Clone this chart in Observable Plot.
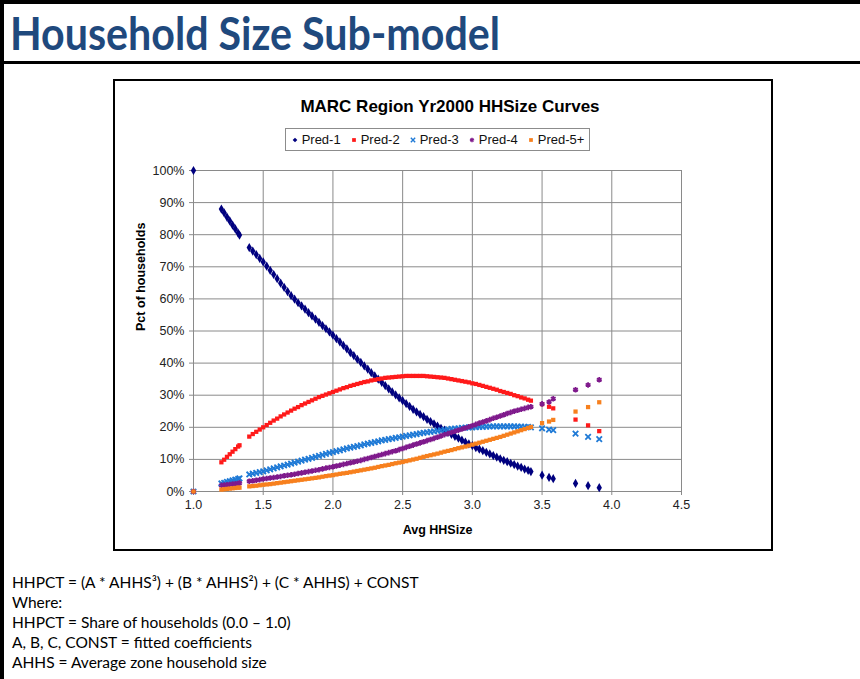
<!DOCTYPE html>
<html>
<head>
<meta charset="utf-8">
<script src="https://cdn.jsdelivr.net/npm/d3@7"></script>
<script src="https://cdn.jsdelivr.net/npm/@observablehq/plot@0.6"></script>
<style>
  html, body { margin: 0; padding: 0; background: #fff; }
  #slide { position: relative; width: 860px; height: 679px; background: #fff; overflow: hidden; }
  .abs { position: absolute; }
  #notes { left: 12px; top: 572px; font-family: Lato, "Open Sans", sans-serif; font-size: 15.5px; line-height: 20px; color: #000; white-space: nowrap; }
  #ctitle { left: 290px; top: 97px; width: 320px; text-align: center; font-family: "Liberation Sans", Arial, sans-serif; font-weight: bold; font-size: 17px; line-height: 20px; color: #000; }
  #legend { left: 285px; top: 128px; width: 305px; height: 23px; border: 1px solid #8c8c8c; box-sizing: border-box; display: flex; align-items: center; justify-content: center; gap: 9px; font-family: "Liberation Sans", Arial, sans-serif; font-size: 13px; color: #111; }
  #legend span.item { display: inline-flex; align-items: center; gap: 3px; }
</style>
</head>
<body>
<div id="slide">
  <div class="abs" style="left:0;top:0;width:4px;height:679px;background:#000"></div>
  <div class="abs" style="left:0;top:0;width:860px;height:4px;background:#000"></div>
  <svg class="abs" style="left:0;top:0" width="860" height="62">
    <text x="10" y="50" textLength="490" lengthAdjust="spacingAndGlyphs" font-family="Lato, 'Open Sans', sans-serif" font-weight="bold" font-size="45" fill="#1F497D">Household Size Sub-model</text>
  </svg>
  <div class="abs" style="left:0;top:61px;width:860px;height:3px;background:#000"></div>
  <div class="abs" style="left:113px;top:79px;width:656px;height:468px;border:2px solid #000"></div>
  <div id="ctitle" class="abs">MARC Region Yr2000 HHSize Curves</div>
  <div id="legend" class="abs"></div>
  <div id="chart" class="abs" style="left:115px;top:155px"></div>
  <div id="notes" class="abs">
    <div>HHPCT = (A * AHHS³) + (B * AHHS²) + (C * AHHS) + CONST</div>
    <div>Where:</div>
    <div>HHPCT = Share of households (0.0 – 1.0)</div>
    <div>A, B, C, CONST = fitted coefficients</div>
    <div>AHHS = Average zone household size</div>
  </div>
</div>
<script>
// ---- data ----
const seriesNames = ["Pred-1", "Pred-2", "Pred-3", "Pred-4", "Pred-5+"];
const seriesColors = ["#00007f", "#ff1a1a", "#1f7ad6", "#7f1a8c", "#f7801e"];
const seriesSymbols = ["diamond", "square", "times", "asterisk", "square"];

const avgHHSize = [
  1.00,
  1.20, 1.22, 1.24, 1.26, 1.28, 1.30, 1.32, 1.33,
  1.400, 1.425, 1.450, 1.475, 1.500, 1.525, 1.550, 1.575, 1.600, 1.625,
  1.650, 1.675, 1.700, 1.725, 1.750, 1.775, 1.800, 1.825, 1.850, 1.875,
  1.900, 1.925, 1.950, 1.975, 2.000, 2.025, 2.050, 2.075, 2.100, 2.125,
  2.150, 2.175, 2.200, 2.225, 2.250, 2.275, 2.300, 2.325, 2.350, 2.375,
  2.400, 2.425, 2.450, 2.475, 2.500, 2.525, 2.550, 2.575, 2.600, 2.625,
  2.650, 2.675, 2.700, 2.725, 2.750, 2.775, 2.800, 2.825, 2.850, 2.875,
  2.900, 2.925, 2.950, 2.975, 3.000, 3.025, 3.050, 3.075, 3.100, 3.125,
  3.150, 3.175, 3.200, 3.225, 3.250, 3.275, 3.300, 3.325, 3.350, 3.375,
  3.400, 3.420,
  3.50, 3.55, 3.58, 3.74, 3.83, 3.91
];

const pred1 = [
  100,
  88.0, 86.8, 85.5, 84.3, 83.0, 81.8, 80.5, 79.9,
  76.0, 74.9, 73.8, 72.6, 71.5, 70.2, 68.9, 67.6, 66.3, 64.9,
  63.6, 62.3, 61.0, 59.9, 58.8, 57.8, 56.8, 55.7, 54.7, 53.7,
  52.7, 51.7, 50.7, 49.7, 48.7, 47.6, 46.6, 45.5, 44.4, 43.3,
  42.3, 41.2, 40.2, 39.1, 38.1, 37.0, 36.0, 35.0, 34.0, 33.0,
  32.0, 31.0, 30.1, 29.2, 28.3, 27.4, 26.5, 25.6, 24.8, 24.0,
  23.3, 22.5, 21.8, 21.1, 20.4, 19.7, 19.1, 18.4, 17.8, 17.2,
  16.6, 16.0, 15.4, 14.8, 14.3, 13.7, 13.2, 12.7, 12.2, 11.7,
  11.2, 10.7, 10.2, 9.7, 9.3, 8.8, 8.4, 7.9, 7.5, 7.0,
  6.6, 6.2,
  5.1, 4.4, 4.0, 2.5, 1.8, 1.2
];
const pred2 = [
  0,
  9.1, 9.9, 10.8, 11.6, 12.4, 13.2, 14.0, 14.4,
  17.1, 17.9, 18.6, 19.3, 20.0, 20.7, 21.4, 22.1, 22.7, 23.4,
  24.0, 24.6, 25.2, 25.8, 26.3, 26.9, 27.4, 27.9, 28.4, 28.9,
  29.4, 29.8, 30.2, 30.6, 31.0, 31.4, 31.8, 32.2, 32.5, 32.9,
  33.2, 33.5, 33.8, 34.1, 34.3, 34.6, 34.8, 35.0, 35.2, 35.4,
  35.5, 35.6, 35.7, 35.8, 35.9, 36.0, 36.0, 36.0, 36.0, 36.0,
  36.0, 35.9, 35.8, 35.7, 35.6, 35.5, 35.4, 35.2, 35.0, 34.8,
  34.6, 34.4, 34.2, 34.0, 33.7, 33.5, 33.2, 32.9, 32.6, 32.3,
  32.0, 31.7, 31.3, 31.0, 30.7, 30.4, 30.0, 29.7, 29.3, 29.0,
  28.6, 28.3,
  27.2, 26.4, 25.9, 22.4, 20.6, 18.8
];
const pred3 = [
  0,
  2.5, 2.7, 3.0, 3.2, 3.5, 3.7, 3.9, 4.1,
  5.3, 5.55, 5.8, 6.05, 6.3, 6.6, 6.9, 7.2, 7.5, 7.8,
  8.1, 8.4, 8.7, 9.0, 9.3, 9.6, 9.9, 10.2, 10.5, 10.8,
  11.1, 11.4, 11.7, 12.0, 12.3, 12.55, 12.8, 13.1, 13.4, 13.65,
  13.9, 14.15, 14.4, 14.65, 14.9, 15.15, 15.4, 15.65, 15.9, 16.1,
  16.3, 16.5, 16.7, 16.9, 17.1, 17.3, 17.5, 17.7, 17.9, 18.1,
  18.3, 18.45, 18.6, 18.75, 18.9, 19.05, 19.2, 19.35, 19.5, 19.6,
  19.7, 19.8, 19.9, 19.95, 20.0, 20.05, 20.1, 20.15, 20.2, 20.25,
  20.3, 20.3, 20.3, 20.3, 20.3, 20.3, 20.3, 20.25, 20.2, 20.15,
  20.1, 20.0,
  19.7, 19.3, 19.1, 18.0, 17.0, 16.3
];
const pred4 = [
  0,
  1.9, 2.0, 2.1, 2.2, 2.3, 2.4, 2.5, 2.6,
  3.2, 3.35, 3.5, 3.7, 3.9, 4.05, 4.2, 4.35, 4.5, 4.7,
  4.9, 5.05, 5.2, 5.4, 5.6, 5.8, 6.0, 6.2, 6.4, 6.6,
  6.8, 7.05, 7.3, 7.5, 7.7, 7.95, 8.2, 8.45, 8.7, 8.95,
  9.2, 9.45, 9.7, 10.0, 10.3, 10.6, 10.9, 11.2, 11.5, 11.8,
  12.1, 12.4, 12.7, 13.05, 13.4, 13.75, 14.1, 14.45, 14.8, 15.15,
  15.5, 15.85, 16.2, 16.55, 16.9, 17.3, 17.7, 18.05, 18.4, 18.75,
  19.1, 19.45, 19.8, 20.15, 20.5, 20.9, 21.3, 21.65, 22.0, 22.4,
  22.8, 23.15, 23.5, 23.9, 24.3, 24.65, 25.0, 25.3, 25.6, 25.9,
  26.2, 26.4,
  27.3, 27.9, 28.9, 31.7, 33.2, 34.8
];
const pred5 = [
  0,
  0.6, 0.7, 0.8, 0.9, 1.0, 1.1, 1.2, 1.2,
  1.6, 1.7, 1.8, 1.95, 2.1, 2.2, 2.3, 2.45, 2.6, 2.75,
  2.9, 3.05, 3.2, 3.35, 3.5, 3.65, 3.8, 3.95, 4.1, 4.25,
  4.4, 4.6, 4.8, 4.95, 5.1, 5.3, 5.5, 5.65, 5.8, 6.0,
  6.2, 6.4, 6.6, 6.8, 7.0, 7.2, 7.4, 7.65, 7.9, 8.1,
  8.3, 8.55, 8.8, 9.0, 9.2, 9.45, 9.7, 9.95, 10.2, 10.5,
  10.8, 11.05, 11.3, 11.55, 11.8, 12.1, 12.4, 12.65, 12.9, 13.2,
  13.5, 13.75, 14.0, 14.3, 14.6, 14.9, 15.2, 15.5, 15.8, 16.1,
  16.4, 16.7, 17.0, 17.35, 17.7, 18.05, 18.4, 18.75, 19.1, 19.45,
  19.8, 20.1,
  21.3, 21.8, 22.3, 24.9, 26.3, 27.8
];
const seriesValues = [pred1, pred2, pred3, pred4, pred5];

const xTicks = [1.0, 1.5, 2.0, 2.5, 3.0, 3.5, 4.0, 4.5];
const yTicks = [0, 0.1, 0.2, 0.3, 0.4, 0.5, 0.6, 0.7, 0.8, 0.9, 1.0];

// ---- build rows ----
const rows = [];
seriesNames.forEach((name, i) => {
  const vals = seriesValues[i];
  const n = Math.min(vals.length, avgHHSize.length);
  for (let j = 0; j < n; j++) rows.push({series: name, x: avgHHSize[j], y: vals[j] / 100});
});

const strokeSymbols = new Set(["times", "asterisk"]);
const dotMarks = seriesNames.map((name, i) => {
  const sym = seriesSymbols[i];
  const data = rows.filter(d => d.series === name);
  return strokeSymbols.has(sym)
    ? Plot.dot(data, {x: "x", y: "y", symbol: sym, stroke: seriesColors[i], strokeWidth: 1.8, r: 2.6})
    : Plot.dot(data, {x: "x", y: "y", symbol: sym, fill: seriesColors[i], stroke: "none", r: sym === "diamond" ? 2.8 : 2.4});
});

const chart = Plot.plot({
  width: 655,
  height: 395,
  marginLeft: 78,
  marginRight: 89,
  marginTop: 15,
  marginBottom: 59,
  style: {fontFamily: "'Liberation Sans', Arial, sans-serif", fontSize: "12.5px", color: "#222", background: "transparent", overflow: "visible"},
  x: {domain: [1, 4.5]},
  y: {domain: [0, 1]},
  marks: [
    Plot.gridX(xTicks, {stroke: "#8a8a8a", strokeOpacity: 1}),
    Plot.gridY(yTicks, {stroke: "#8a8a8a", strokeOpacity: 1}),
    Plot.axisX(xTicks, {tickSize: 4, tickPadding: 5, stroke: "#8a8a8a", fill: "#222", tickFormat: d3.format(".1f"), label: null}),
    Plot.axisY(yTicks, {tickSize: 4, tickPadding: 5, stroke: "#8a8a8a", fill: "#222", tickFormat: d3.format(".0%"), label: null}),
    ...dotMarks,
    Plot.text(["Avg HHSize"], {frameAnchor: "bottom", dy: 42, fontWeight: "bold", fontSize: 12.5, fill: "#000"}),
    Plot.text(["Pct of households"], {frameAnchor: "left", dx: -53, rotate: -90, fontWeight: "bold", fontSize: 12.5, fill: "#000"})
  ]
});
document.getElementById("chart").appendChild(chart);

// ---- legend ----
const legend = document.getElementById("legend");
seriesNames.forEach((name, i) => {
  const sym = seriesSymbols[i];
  const symObj = {diamond: d3.symbolDiamond2, square: d3.symbolSquare, times: d3.symbolTimes, asterisk: d3.symbolAsterisk}[sym];
  const path = d3.symbol(symObj, 14)();
  const isStroke = strokeSymbols.has(sym);
  const item = document.createElement("span");
  item.className = "item";
  item.innerHTML = `<svg width="8" height="8" viewBox="-4 -4 8 8"><path d="${path}" ${isStroke ? `fill="none" stroke="${seriesColors[i]}" stroke-width="1.4"` : `fill="${seriesColors[i]}"`}/></svg><span>${name}</span>`;
  legend.appendChild(item);
});
</script>
</body>
</html>
